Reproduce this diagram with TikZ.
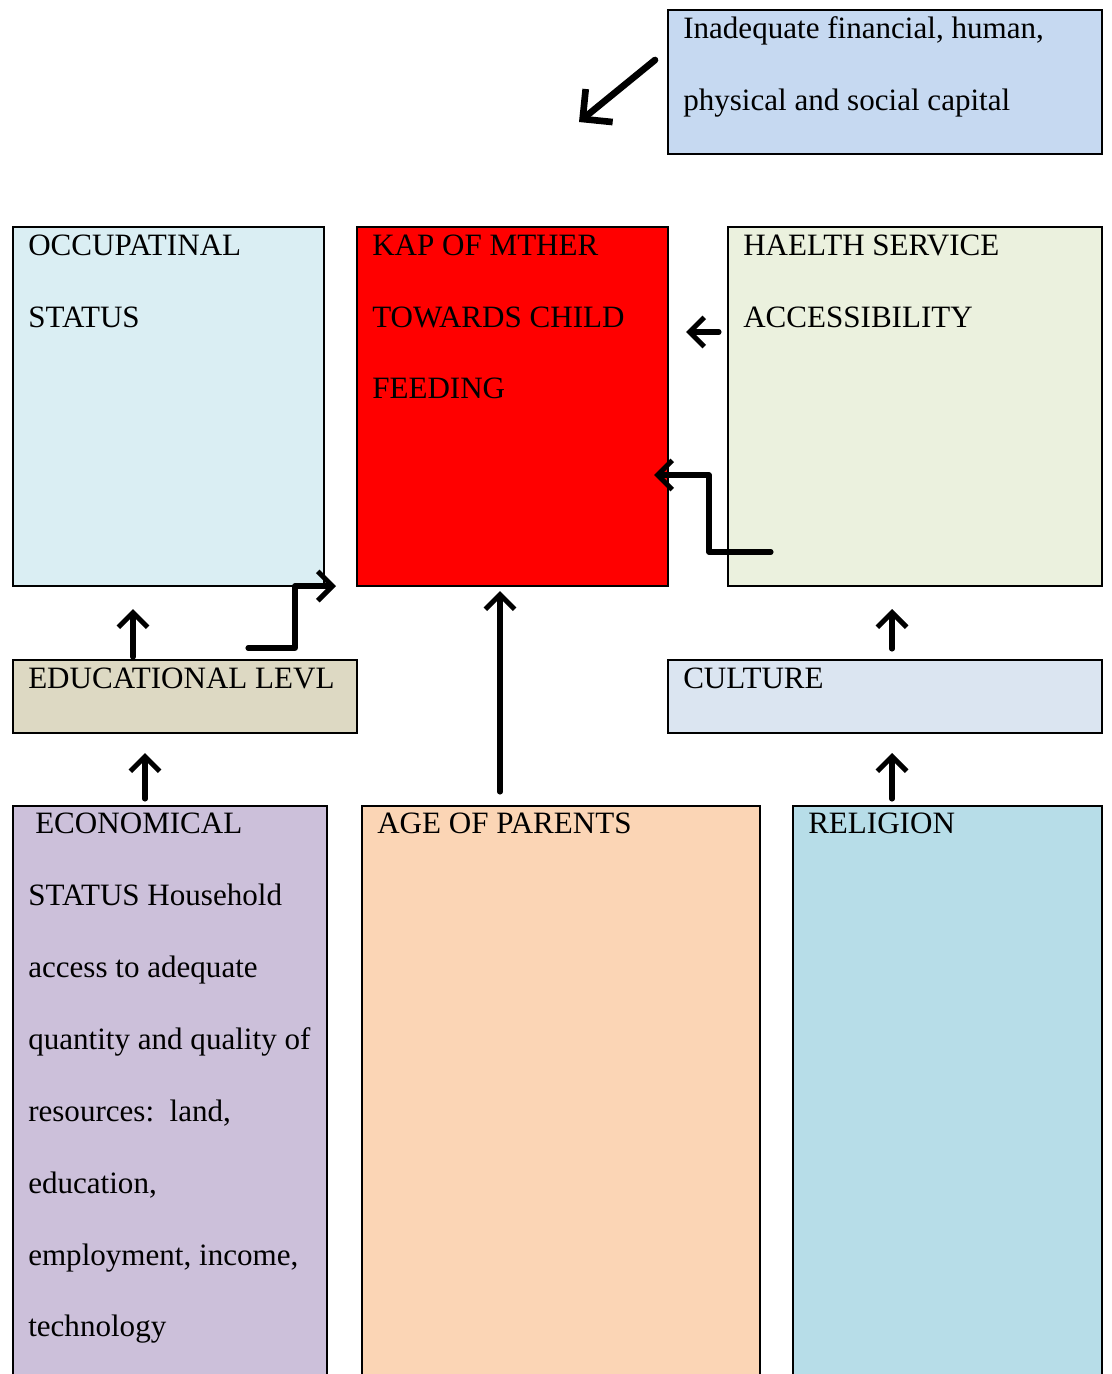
\documentclass[tikz,border=0pt]{standalone}
\usepackage{fontspec}
\setmainfont{Liberation Serif}
\usetikzlibrary{arrows.meta,fit}
\definecolor{cTop}{HTML}{C6D9F1}
\definecolor{cOcc}{HTML}{DAEEF3}
\definecolor{cKap}{HTML}{FF0000}
\definecolor{cHea}{HTML}{EBF1DE}
\definecolor{cEdu}{HTML}{DDD9C3}
\definecolor{cCul}{HTML}{DBE5F1}
\definecolor{cEco}{HTML}{CCC0DA}
\definecolor{cAge}{HTML}{FBD5B5}
\definecolor{cRel}{HTML}{B7DDE8}
\tikzset{
  box/.style={draw=black, line width=1.5pt, inner sep=0pt, rectangle},
  txt/.style={anchor=base west, inner sep=0pt, font=\fontsize{23.3}{27}\selectfont},
  arr/.style={line width=3.8pt, line cap=round, line join=round,
    -{Straight Barb[length=11pt,width=22pt,line width=3.8pt]}},
  bigarr/.style={line width=5pt, line cap=round, line join=round,
    -{Straight Barb[length=16pt,width=32pt,line width=5pt]}}
}
\begin{document}
\begin{tikzpicture}[x=0.75pt,y=-0.75pt]
\useasboundingbox[fill=white] (0,0) rectangle (1112,1374);
\clip (0,0) rectangle (1112,1374);
% boxes
\node[box, fill=cTop, fit={(668,10) (1102,154)}] (top) {};
\node[box, fill=cOcc, fit={(13,227) (324,586)}] (occ) {};
\node[box, fill=cKap, fit={(357,227) (668,586)}] (kap) {};
\node[box, fill=cHea, fit={(728,227) (1102,586)}] (hea) {};
\node[box, fill=cEdu, fit={(13,660) (357,733)}] (edu) {};
\node[box, fill=cCul, fit={(668,660) (1102,733)}] (cul) {};
\node[box, fill=cEco, fit={(13,806) (327,1400)}] (eco) {};
\node[box, fill=cAge, fit={(362,806) (760,1400)}] (age) {};
\node[box, fill=cRel, fit={(793,806) (1102,1400)}] (rel) {};
% texts
\node[txt] (t1) at (683,38) {Inadequate financial, human,};
\node[txt] (t2) at (683,110) {physical and social capital};
\node[txt] (o1) at (28,255) {OCCUPATINAL};
\node[txt] (o2) at (28,327) {STATUS};
\node[txt] (k1) at (372,255) {KAP OF MTHER};
\node[txt] (k2) at (372,327) {TOWARDS CHILD};
\node[txt] (k3) at (372,398) {FEEDING};
\node[txt] (h1) at (743,255) {HAELTH SERVICE};
\node[txt] (h2) at (743,327) {ACCESSIBILITY};
\node[txt] (e1) at (28,688) {EDUCATIONAL LEVL};
\node[txt] (c1) at (683,688) {CULTURE};
\node[txt] (ec1) at (35,833) {ECONOMICAL};
\node[txt] (ec2) at (28,905) {STATUS Household};
\node[txt] (ec3) at (28,977) {access to adequate};
\node[txt] (ec4) at (28,1049) {quantity and quality of};
\node[txt] (ec5) at (28,1121) {resources:\ \ land,};
\node[txt] (ec6) at (28,1193) {education,};
\node[txt] (ec7) at (28,1265) {employment, income,};
\node[txt] (ec8) at (28,1336) {technology};
\node[txt] (a1) at (377,833) {AGE OF PARENTS};
\node[txt] (r1) at (808,833) {RELIGION};
% arrows
\draw[bigarr] ([shift={(-12,-22)}]top.west) -- ([shift={(-88,40)}]top.west);
\draw[arr] ([shift={(-8,-74.5)}]hea.west) -- ([shift={(17,-74.5)}]kap.east);
\draw[arr] ([shift={(44,-35)}]hea.south west) -- ++(-62,0) |- ([shift={(-15,-112)}]kap.south east);
\draw[arr] ([shift={(-61,-13)}]age.north) -- ([shift={(-12.5,4)}]kap.south);
\draw[arr] ([shift={(121,-2)}]edu.north west) -- ([shift={(121,22)}]occ.south west);
\draw[arr] ([shift={(-110,-11)}]edu.north east) -- ++(47,0) |- ([shift={(-20,-1)}]kap.south west);
\draw[arr] ([shift={(225,-10)}]cul.north west) -- ([shift={(165,22)}]hea.south west);
\draw[arr] ([shift={(100,-6)}]rel.north west) -- ([shift={(225,19)}]cul.south west);
\draw[arr] ([shift={(133,-6)}]eco.north west) -- ([shift={(133,19)}]edu.south west);
\end{tikzpicture}
\end{document}
